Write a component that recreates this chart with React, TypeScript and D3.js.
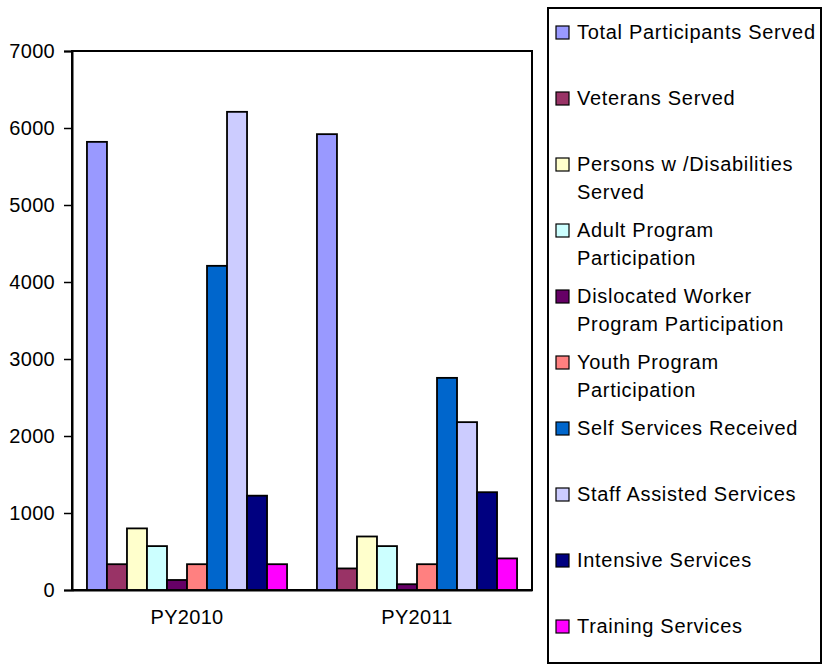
import React, { useEffect, useRef } from "react";
import * as d3 from "d3";

const years = ["PY2010", "PY2011"];

const seriesNames = [
    "Total Participants Served",
    "Veterans Served",
    "Persons w /Disabilities Served",
    "Adult Program Participation",
    "Dislocated Worker Program Participation",
    "Youth Program Participation",
    "Self Services Received",
    "Staff Assisted Services",
    "Intensive Services",
    "Training Services"
];

// legend text split the way the original wraps it
const legendLines = [
    ["Total Participants Served"],
    ["Veterans Served"],
    ["Persons w /Disabilities", "Served"],
    ["Adult Program", "Participation"],
    ["Dislocated Worker", "Program Participation"],
    ["Youth Program", "Participation"],
    ["Self Services Received"],
    ["Staff Assisted Services"],
    ["Intensive Services"],
    ["Training Services"]
];

const py2010 = [5820, 335, 800, 570, 130, 335, 4210, 6210, 1225, 335];
const py2011 = [5920, 280, 695, 570, 75, 335, 2755, 2180, 1270, 410];

const yTicks = [0, 1000, 2000, 3000, 4000, 5000, 6000, 7000];

const colors = ['#9999FF', '#993366', '#FFFFCC', '#CCFFFF', '#660066', '#FF8080', '#0066CC', '#CCCCFF', '#000080', '#FF00FF'];

const App = () => {
    const ref = useRef<SVGSVGElement>(null);

    useEffect(() => {
        const svg = d3.select(ref.current);
        svg.selectAll('*').remove();

        const font = 'Liberation Sans, Arial, sans-serif';
        const left = 72, right = 532, top = 51, bottom = 590;

        const x0 = d3.scaleBand().domain(years).range([left, right]).paddingInner(0.13).paddingOuter(0.065);
        const x1 = d3.scaleBand().domain(seriesNames).range([0, x0.bandwidth()]);
        const y = d3.scaleLinear().domain([0, 7000]).range([bottom, top]);

        const values = [py2010, py2011];

        // plot frame
        svg.append('rect')
            .attr('x', left).attr('y', top)
            .attr('width', right - left).attr('height', bottom - top)
            .attr('fill', 'none').attr('stroke', '#000').attr('stroke-width', 2);

        // bars
        years.forEach((yr, i) => {
            const g = svg.append('g').attr('transform', `translate(${x0(yr)},0)`);
            g.selectAll('rect')
                .data(values[i])
                .enter()
                .append('rect')
                .attr('x', (_d, j) => x1(seriesNames[j])!)
                .attr('y', d => y(d))
                .attr('width', x1.bandwidth())
                .attr('height', d => y(0) - y(d))
                .attr('fill', (_d, j) => colors[j])
                .attr('stroke', '#000')
                .attr('stroke-width', 1.8);
        });

        // y axis
        const yAxis = svg.append('g')
            .attr('transform', `translate(${left},0)`)
            .call(d3.axisLeft(y).tickValues(yTicks).tickSize(8).tickPadding(9).tickFormat(d3.format('d')));
        yAxis.select('.domain').attr('stroke-width', 2);
        yAxis.selectAll('.tick line').attr('stroke-width', 1.5);
        yAxis.selectAll('text').attr('font-size', 20).attr('font-family', font).attr('fill', '#000')
            .attr('letter-spacing', 0.3);

        // x axis
        const xAxis = svg.append('g')
            .attr('transform', `translate(0,${bottom})`)
            .call(d3.axisBottom(x0).tickSize(0).tickPadding(20));
        xAxis.select('.domain').attr('stroke-width', 2);
        xAxis.selectAll('text').attr('font-size', 20).attr('font-family', font).attr('fill', '#000')
            .attr('letter-spacing', 0.3);

        // legend
        const lg = svg.append('g');
        lg.append('rect')
            .attr('x', 548).attr('y', 8).attr('width', 273).attr('height', 655)
            .attr('fill', '#fff').attr('stroke', '#000').attr('stroke-width', 2);

        legendLines.forEach((lines, i) => {
            const cy = 32 + i * 66;
            lg.append('rect')
                .attr('x', 556).attr('y', cy - 6).attr('width', 13).attr('height', 13)
                .attr('fill', colors[i]).attr('stroke', '#000').attr('stroke-width', 1.2);
            lines.forEach((t, k) => {
                lg.append('text')
                    .attr('x', 577).attr('y', cy + 7 + k * 28)
                    .attr('font-size', 20).attr('font-family', font)
                    .attr('letter-spacing', 0.7)
                    .attr('fill', '#000')
                    .text(t);
            });
        });
    }, []);

    return (
        <svg ref={ref} width={823} height={668}
            style={{ position: 'absolute', left: 0, top: 0, background: '#fff' }} />
    );
};

export default App;
